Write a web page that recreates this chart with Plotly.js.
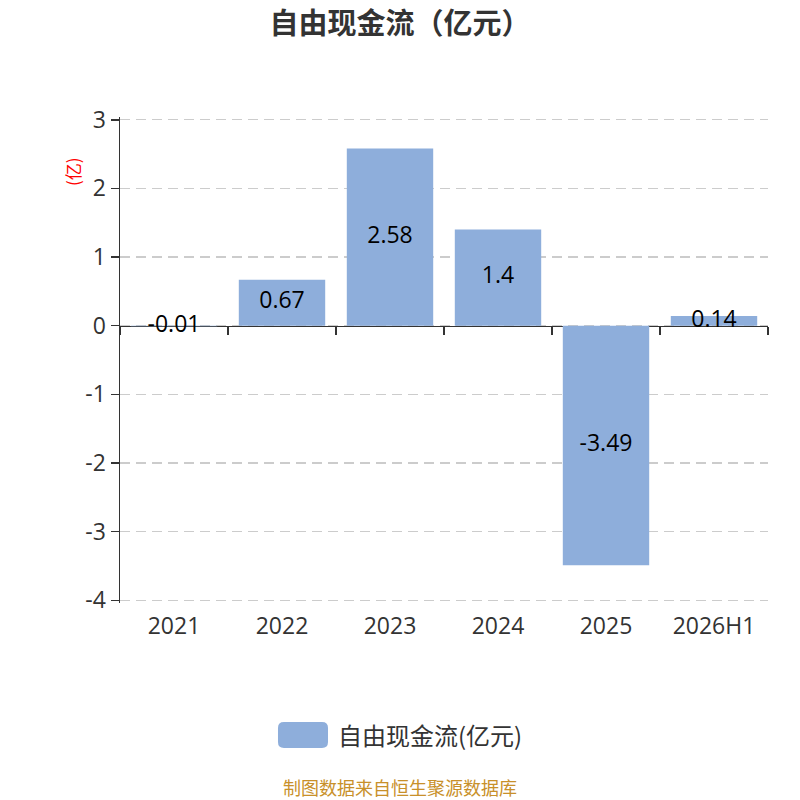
<!DOCTYPE html>
<html>
<head>
<meta charset="utf-8">
<script src="https://cdn.plot.ly/plotly-3.0.1.min.js"></script>
<style>
  html, body { margin: 0; padding: 0; background: #fff; }
  #chart { width: 800px; height: 800px; }
</style>
</head>
<body>
<div id="chart"></div>
<script>
  var categories = ['2021', '2022', '2023', '2024', '2025', '2026H1'];
  var values = [-0.01, 0.67, 2.58, 1.4, -3.49, 0.14];
  var seriesName = '自由现金流(亿元)';
  var yTicks = [3, 2, 1, 0, -1, -2, -3, -4];
  var yTickText = ['3', '2', '1', '0', '-1', '-2', '-3', '-4'];
  var yRange = [-4.04, 3.04];

  var BAR = '#8eaedb';
  var INK = '#333333';
  var FONT = '"Open Sans", "Noto Sans CJK SC", sans-serif';
  var CJK = '"Noto Sans CJK SC", sans-serif';

  /* bars on the bottom (labelled) axis */
  var bars = {
    x: categories,
    y: values,
    type: 'bar',
    xaxis: 'x',
    marker: { color: BAR, line: { width: 0 } },
    hoverinfo: 'skip',
    showlegend: false
  };

  /* invisible copy so the zero-line axis has categories */
  var ghost = {
    x: categories,
    y: values,
    type: 'bar',
    xaxis: 'x2',
    marker: { color: 'rgba(0,0,0,0)' },
    hoverinfo: 'skip',
    showlegend: false
  };

  /* value labels centred in each bar */
  var labels = {
    x: categories,
    y: values.map(function (v) { return v / 2; }),
    text: values.map(function (v) { return String(v); }),
    mode: 'text',
    type: 'scatter',
    textfont: { size: 23, color: '#000', family: FONT },
    hoverinfo: 'skip',
    showlegend: false
  };

  var layout = {
    width: 800,
    height: 800,
    margin: { l: 120, r: 32, t: 117, b: 197 },
    paper_bgcolor: '#fff',
    plot_bgcolor: '#fff',
    font: { family: FONT, color: INK },
    showlegend: false,
    bargap: 0.2,
    title: {
      text: '<b>自由现金流（亿元）</b>',
      font: { size: 29, color: INK, family: CJK },
      x: 0.5, xanchor: 'center',
      y: 0.97, yanchor: 'middle'
    },
    xaxis: {
      type: 'category',
      categoryarray: categories,
      showline: false, showgrid: false, zeroline: false,
      ticks: '',
      ticklabelstandoff: 7,
      tickfont: { size: 23, color: INK },
      fixedrange: true
    },
    xaxis2: {
      type: 'category',
      categoryarray: categories,
      overlaying: 'x',
      matches: 'x',
      anchor: 'free',
      position: -yRange[0] / (yRange[1] - yRange[0]),
      layer: 'below traces',
      showline: true, linecolor: INK, linewidth: 1.5,
      ticks: 'outside', ticklen: 8, tickwidth: 1.5, tickcolor: INK,
      tickson: 'boundaries',
      showticklabels: false,
      showgrid: false, zeroline: false,
      fixedrange: true
    },
    yaxis: {
      range: yRange,
      tickvals: yTicks,
      ticktext: yTickText,
      showline: true, linecolor: INK, linewidth: 1.5,
      ticks: 'outside', ticklen: 8, tickwidth: 1.5, tickcolor: INK,
      tickfont: { size: 23, color: INK },
      showgrid: true, gridcolor: '#cccccc', griddash: '10px,6px', gridwidth: 1.2,
      zeroline: false,
      fixedrange: true
    },
    shapes: [
      /* legend swatch */
      {
        type: 'path', xref: 'paper', yref: 'paper',
        path: 'M 0.2530,-0.2449 L 0.3117,-0.2449 Q 0.3210,-0.2449 0.3210,-0.2572 ' +
              'L 0.3210,-0.2861 Q 0.3210,-0.2984 0.3117,-0.2984 L 0.2530,-0.2984 ' +
              'Q 0.2438,-0.2984 0.2438,-0.2861 L 0.2438,-0.2572 Q 0.2438,-0.2449 0.2530,-0.2449 Z',
        fillcolor: BAR, line: { width: 0 }
      }
    ],
    annotations: [
      {
        text: '(亿)', xref: 'paper', yref: 'paper',
        x: -0.0957, y: 0.9218, textangle: -90,
        showarrow: false,
        font: { size: 17, color: '#ff0000', family: CJK }
      },
      {
        text: seriesName, xref: 'paper', yref: 'paper',
        x: 0.334, y: -0.2716, xanchor: 'left', yanchor: 'middle',
        showarrow: false,
        font: { size: 24, color: INK, family: CJK }
      },
      {
        text: '制图数据来自恒生聚源数据库', xref: 'paper', yref: 'paper',
        x: 0.432, y: -0.378, xanchor: 'center', yanchor: 'middle',
        showarrow: false,
        font: { size: 18, color: '#c8902a', family: CJK }
      }
    ]
  };

  Plotly.newPlot('chart', [bars, ghost, labels], layout, {
    displayModeBar: false, staticPlot: true
  });
</script>
</body>
</html>
